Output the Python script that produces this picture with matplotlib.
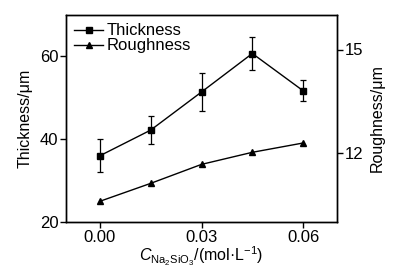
import matplotlib.pyplot as plt
from matplotlib.lines import Line2D

plt.rcParams['font.family'] = ['Liberation Sans', 'DejaVu Sans']
plt.rcParams['mathtext.fontset'] = 'custom'
plt.rcParams['mathtext.rm'] = 'Liberation Sans'
plt.rcParams['mathtext.it'] = 'Liberation Sans:italic'

conc = [0.00, 0.015, 0.03, 0.045, 0.06]
thickness = [36.0, 42.2, 51.4, 60.7, 51.7]
thickness_err = [4.0, 3.4, 4.5, 4.0, 2.5]
roughness = [10.6, 11.12, 11.67, 12.02, 12.29]

fig = plt.figure(figsize=(3.96, 2.73), dpi=100)
ax = fig.add_axes([66/396, 1 - 222/273, (337-66)/396, (222-15)/273])
ax2 = ax.twinx()

ax.errorbar(conc, thickness, yerr=thickness_err, color='black', marker='s', ms=4,
            lw=1, capsize=2.5, elinewidth=0.9, capthick=0.9)
ax2.plot(conc, roughness, color='black', marker='^', ms=5, lw=1)

ax.set_xlim(-0.01, 0.07)
ax.set_ylim(20, 70)
ax2.set_ylim(10, 16)
ax.set_xticks([0.00, 0.03, 0.06])
ax.set_xticklabels(['0.00', '0.03', '0.06'])
ax.set_yticks([20, 40, 60])
ax2.set_yticks([12, 15])

for a in (ax, ax2):
    a.tick_params(direction='out', length=4, width=1, labelsize=12, pad=1.5)
    for s in a.spines.values():
        s.set_linewidth(1)

ax.set_ylabel('Thickness/μm', fontsize=11.5, labelpad=5)
ax2.set_ylabel('Roughness/μm', fontsize=11.5, labelpad=5)
ax.set_xlabel(r'$C_{\mathrm{Na_2SiO_3}}$/(mol·L$^{-1}$)', fontsize=11.5, labelpad=0)

handles = [Line2D([], [], color='black', marker='s', ms=4, lw=1),
           Line2D([], [], color='black', marker='^', ms=5, lw=1)]
ax.legend(handles, ['Thickness', 'Roughness'], loc='upper left', frameon=False,
          fontsize=12, handlelength=1.7, borderpad=0.2, labelspacing=0.0,
          handletextpad=0.25, borderaxespad=0.3)

fig.savefig('out.png', dpi=100)
